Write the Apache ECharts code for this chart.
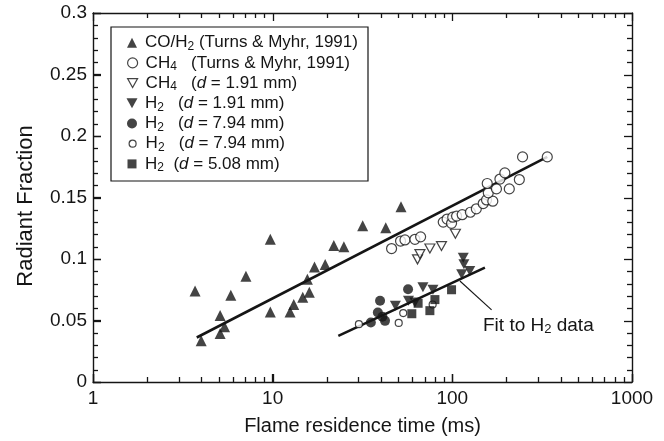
<!DOCTYPE html>
<html><head><meta charset="utf-8">
<script src="https://cdn.jsdelivr.net/npm/echarts@6/dist/echarts.min.js"></script>
<style>html,body{margin:0;padding:0;background:#fff}#c{width:664px;height:441px}</style>
</head><body><div id="c"></div>
<script>
// ---- data (flame residence time in ms, radiant fraction) ----
const xTickLabels = ['1', '10', '100', '1000'];
const xMajorTicks = [1, 10, 100, 1000];
const xMinorTicks = [2,3,4,5,6,7,8,9, 20,30,40,50,60,70,80,90, 200,300,400,500,600,700,800,900];
const yTickValues = [0, 0.05, 0.1, 0.15, 0.2, 0.25, 0.3];
const yMinorTicks = [0.01,0.02,0.03,0.04, 0.06,0.07,0.08,0.09, 0.11,0.12,0.13,0.14, 0.16,0.17,0.18,0.19,
  0.21,0.22,0.23,0.24, 0.26,0.27,0.28,0.29];

const coH2Turns = [[3.7,0.074],[4.0,0.0335],[5.1,0.054],[5.4,0.045],[5.1,0.0395],[5.85,0.0705],[7.1,0.086],
  [9.7,0.116],[9.7,0.057],[12.5,0.057],[13.1,0.063],[14.7,0.069],[16.0,0.073],[15.6,0.0835],[17.1,0.0935],
  [19.6,0.0955],[21.9,0.111],[24.9,0.110],[31.7,0.127],[42.6,0.1255],[51.8,0.1425]];
const ch4Turns = [[45.9,0.1085],[51.5,0.1146],[54.5,0.1155],[61.9,0.116],[66.6,0.118],[89,0.130],[93.5,0.1325],
  [99,0.129],[100.5,0.134],[105.6,0.1349],[113.5,0.136],[126,0.138],[136,0.1408],[148.5,0.1451],[155,0.148],
  [168,0.147],[158.5,0.1538],[176,0.157],[156.4,0.1614],[184,0.165],[196,0.170],[207.5,0.157],[236,0.1646],
  [246,0.183],[337.6,0.183]];
const ch4d191 = [[64,0.0997],[66,0.104],[75,0.1085],[87,0.1105],[104,0.1205]];
const h2d191 = [[48.2,0.062],[57,0.066],[61.9,0.0646],[68.6,0.077],[78,0.075],[115,0.101],[116,0.0957],
  [112.7,0.0876],[125,0.0903]];
const h2d794filled = [[35.2,0.0484],[38.5,0.0565],[39.6,0.066],[40.8,0.053],[42.2,0.0497],[56.7,0.0754]];
const h2d794open = [[30.2,0.047],[50.3,0.048],[53.3,0.056],[77.7,0.063]];
const h2d508 = [[59.5,0.0555],[64.5,0.064],[75,0.058],[80,0.067],[99,0.075]];
const fitAll = [[3.78,0.0362],[337.6,0.183]];
const fitH2 = [[23.2,0.0375],[151.8,0.093]];
const pointer = [[110.2,0.0821],[165.4,0.0586]];

const legendLabels = [
  'CO/H{s|2} (Turns & Myhr, 1991)',
  'CH{s|4}   (Turns & Myhr, 1991)',
  'CH{s|4}   ({i|d} = 1.91 mm)',
  'H{s|2}   ({i|d} = 1.91 mm)',
  'H{s|2}   ({i|d} = 7.94 mm)',
  'H{s|2}   ({i|d} = 7.94 mm)',
  'H{s|2}  ({i|d} = 5.08 mm)'
];
const annotation = 'Fit to H{s|2} data';

// ---- styling ----
const INK = '#151515';
const FONT = 'Liberation Sans, Arial, Helvetica, sans-serif';
const DOWN = 'path://M0,0L10,0L5,9Z';
const MAJOR_LEN = 8, MINOR_LEN = 5;

const seriesDefs = [
  {id:'s0', data: coH2Turns, symbol:'triangle', size:11, open:false, lw:10, lh:10},
  {id:'s1', data: ch4Turns, symbol:'circle', size:10, open:true, lw:10, lh:10},
  {id:'s2', data: ch4d191, symbol:DOWN, size:[10,9], open:true, lw:10, lh:9},
  {id:'s3', data: h2d191, symbol:DOWN, size:[11,10], open:false, lw:11, lh:10},
  {id:'s4', data: h2d794filled, symbol:'circle', size:10, open:false, lw:10, lh:10},
  {id:'s5', data: h2d794open, symbol:'circle', size:7, open:true, lw:7, lh:7},
  {id:'s6', data: h2d508, symbol:'rect', size:9, open:false, lw:9, lh:9}
];

const openStyle = () => ({color:'#fff', borderColor:INK, borderWidth:1.2});
const fillStyle = () => ({color:INK, borderWidth:0});

const series = seriesDefs.map(d => ({
  type:'scatter', name:d.id, data:d.data, symbol:d.symbol, symbolSize:d.size,
  itemStyle: d.open ? openStyle() : fillStyle(), z: d.open ? 3 : 4
}));
[fitAll, fitH2].forEach((f,i) => series.push({type:'line', name:'fit'+i, data:f, symbol:'none',
  lineStyle:{color:INK, width:2.6}, z:2}));
series.push({type:'line', name:'ptr', data:pointer, symbol:'none', lineStyle:{color:INK, width:1.1}, z:2});

const rowCenter0 = 42.7, rowStep = 20.2, symCx = 132, textX = 145;
const legends = seriesDefs.map((d,i) => ({
  show:true, orient:'vertical', selectedMode:false, padding:0, z:10,
  left: symCx - d.lw/2, top: rowCenter0 + i*rowStep - 10,
  itemWidth:d.lw, itemHeight:d.lh, itemGap:0,
  data:[d.id],
  itemStyle: d.open ? openStyle() : fillStyle(),
  formatter: () => legendLabels[i],
  textStyle:{fontSize:17, color:INK, fontFamily:FONT, lineHeight:20,
    padding:[0,0,0, textX - (symCx + d.lw/2 + 5)],
    rich:{s:{fontSize:12, lineHeight:6, verticalAlign:'bottom', fontFamily:FONT, color:INK},
          i:{fontStyle:'italic', fontSize:17, fontFamily:FONT, color:INK}}}
}));

const line = () => ({show:true, onZero:false, lineStyle:{color:INK, width:1.4}});
const boxEl = {id:'box', type:'rect', z:0, shape:{x:111, y:27, width:257, height:154},
  style:{fill:'#fff', stroke:INK, lineWidth:1.2}};
const noteEl = {id:'note', type:'text', z:10, x:483, y:316,
  style:{text:annotation, fill:INK, fontSize:19, fontFamily:FONT, verticalAlign:'top', lineHeight:20,
    rich:{s:{fontSize:13, lineHeight:6, verticalAlign:'bottom', fontFamily:FONT, fill:INK}}}};

const option = {
  animation:false,
  grid:{left:93, right:32, top:13, bottom:58},
  legend: legends,
  xAxis:[
    {type:'log', logBase:10, min:1, max:1000, position:'bottom', axisLine:line(),
     axisTick:{show:true, inside:true, length:MAJOR_LEN, lineStyle:{color:INK, width:1.3}},
     axisLabel:{fontSize:19, color:INK, fontFamily:FONT, margin:7,
       formatter:v => xTickLabels[Math.round(Math.log10(v))]},
     splitLine:{show:false},
     name:'Flame residence time (ms)', nameLocation:'middle', nameGap:34,
     nameTextStyle:{fontSize:20, color:INK, fontFamily:FONT}},
    {type:'log', logBase:10, min:1, max:1000, position:'top', axisLine:line(),
     axisTick:{show:false}, axisLabel:{show:false}, splitLine:{show:false}}
  ],
  yAxis:[
    {type:'value', min:yTickValues[0], max:yTickValues[yTickValues.length-1], interval:0.05, position:'left',
     axisLine:line(), axisTick:{show:true, inside:true, length:MAJOR_LEN, lineStyle:{color:INK, width:1.3}},
     axisLabel:{fontSize:19, color:INK, fontFamily:FONT, margin:6},
     splitLine:{show:false},
     name:'Radiant Fraction', nameLocation:'middle', nameGap:56,
     nameTextStyle:{fontSize:22, color:INK, fontFamily:FONT, padding:[0,17,0,0]}},
    {type:'value', min:0, max:0.3, interval:0.05, position:'right', axisLine:line(),
     axisTick:{show:false}, axisLabel:{show:false}, splitLine:{show:false}}
  ],
  graphic:[boxEl, noteEl],
  series
};
const chart = echarts.init(document.getElementById('c'));
chart.setOption(option);

// frame tick marks on all four sides, placed through the chart's own axis scales
const finder = {xAxisIndex:0, yAxisIndex:0};
const px = v => chart.convertToPixel(finder, [v, 0.1])[0];
const py = v => chart.convertToPixel(finder, [10, v])[1];
const xL = px(1), xR = px(1000), yB = py(0), yT = py(0.3);
const ticks = [];
const seg = (x1,y1,x2,y2) => ticks.push({id:'t'+ticks.length, type:'line', z:20, silent:true,
  shape:{x1,y1,x2,y2}, style:{stroke:INK, lineWidth:1.3}});
xMajorTicks.map(v => [v, MAJOR_LEN]).concat(xMinorTicks.map(v => [v, MINOR_LEN])).forEach(([v, len]) => {
  const x = Math.round(px(v)) + 0.5;
  seg(x, yB, x, yB - len); seg(x, yT, x, yT + len);
});
yTickValues.map(v => [v, MAJOR_LEN]).concat(yMinorTicks.map(v => [v, MINOR_LEN])).forEach(([v, len]) => {
  const y = Math.round(py(v)) + 0.5;
  seg(xL, y, xL + len, y); seg(xR, y, xR - len, y);
});
chart.setOption({graphic:[boxEl, noteEl].concat(ticks)});
</script></body></html>
